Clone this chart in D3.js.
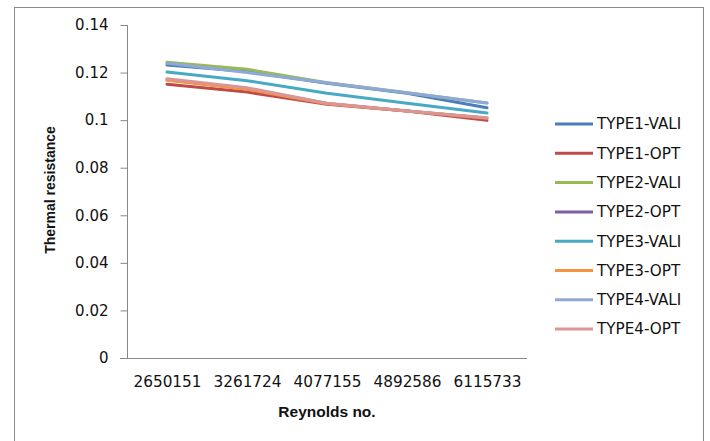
<!DOCTYPE html>
<html><head><meta charset="utf-8">
<script src="https://cdn.jsdelivr.net/npm/d3@7"></script>
<style>body{margin:0;background:#fff}svg{display:block}</style>
</head><body>
<svg id="c" width="710" height="441"></svg>
<script>
const categories = ["2650151","3261724","4077155","4892586","6115733"];
const seriesNames = ["TYPE1-VALI","TYPE1-OPT","TYPE2-VALI","TYPE2-OPT","TYPE3-VALI","TYPE3-OPT","TYPE4-VALI","TYPE4-OPT"];
const type1Vali = [0.1232, 0.1205, 0.1155, 0.1113, 0.1052];
const type1Opt  = [0.1151, 0.1118, 0.1067, 0.1038, 0.0999];
const type2Vali = [0.1243, 0.1214, 0.1157, 0.1115, 0.1072];
const type2Opt  = [0.1170, 0.1132, 0.1070, 0.1038, 0.1008];
const type3Vali = [0.1202, 0.1166, 0.1113, 0.1071, 0.1030];
const type3Opt  = [0.1168, 0.1130, 0.1069, 0.1038, 0.1008];
const type4Vali = [0.1239, 0.1200, 0.1157, 0.1115, 0.1072];
const type4Opt  = [0.1174, 0.1136, 0.1071, 0.1038, 0.1010];
const yTicks = [0, 0.02, 0.04, 0.06, 0.08, 0.1, 0.12, 0.14];
const colors = ["#4A7EBB","#BE4B48","#98B954","#7D60A0","#46AAC5","#F69240","#8EA9D8","#D99694"];

const allSeries = [type1Vali,type1Opt,type2Vali,type2Opt,type3Vali,type3Opt,type4Vali,type4Opt];
const svg = d3.select("#c");
const font = "'DejaVu Sans', sans-serif";

svg.append("rect").attr("x",14.5).attr("y",7.5).attr("width",689).attr("height",440)
  .attr("fill","#fff").attr("stroke","#888").attr("stroke-width",1);

const x = d3.scalePoint().domain(categories).range([127,527]).padding(0.5);
const y = d3.scaleLinear().domain([0,0.14]).range([358,25]);

// y axis
const ya = svg.append("g").attr("transform","translate(127.5,0)")
  .call(d3.axisLeft(y).tickValues(yTicks).tickSize(7).tickPadding(12).tickFormat(d=>String(+d.toFixed(2))));
ya.select(".domain").attr("stroke","#888").attr("d","M0,25V358");
ya.selectAll(".tick line").attr("stroke","#888");
ya.selectAll("text").attr("font-family",font).attr("font-size",15).attr("fill","#111");

// x axis
const xa = svg.append("g").attr("transform","translate(0,358.5)")
  .call(d3.axisBottom(x).tickSize(0).tickPadding(18));
xa.select(".domain").attr("stroke","#888").attr("d","M120,0H527");
xa.selectAll("text").attr("font-family",font).attr("font-size",15.3).attr("fill","#111");

// titles
svg.append("text").attr("x",327).attr("y",417).attr("text-anchor","middle")
  .attr("font-family","'Liberation Sans', Arial, sans-serif").attr("font-weight","bold").attr("font-size",15.5)
  .attr("fill","#111").text("Reynolds no.");
svg.append("text").attr("transform","translate(55,190) rotate(-90)").attr("text-anchor","middle")
  .attr("font-family","'Liberation Sans', Arial, sans-serif").attr("font-weight","bold").attr("font-size",14)
  .attr("fill","#111").text("Thermal resistance");

// lines
const line = d3.line().x((d,i)=>x(categories[i])).y(d=>y(d));
allSeries.forEach((s,k)=>{
  svg.append("path").datum(s).attr("d",line).attr("fill","none")
    .attr("stroke",colors[k]).attr("stroke-width",3).attr("stroke-linejoin","round").attr("stroke-linecap","round");
});

// legend
const lg = svg.append("g");
seriesNames.forEach((n,k)=>{
  const yy = 124 + k*29.3;
  lg.append("line").attr("x1",555).attr("x2",593).attr("y1",yy).attr("y2",yy)
    .attr("stroke",colors[k]).attr("stroke-width",3);
  lg.append("text").attr("x",597).attr("y",yy).attr("dy","0.35em")
    .attr("font-family",font).attr("font-size",15.2).attr("fill","#111").text(n);
});
</script>
</body></html>
